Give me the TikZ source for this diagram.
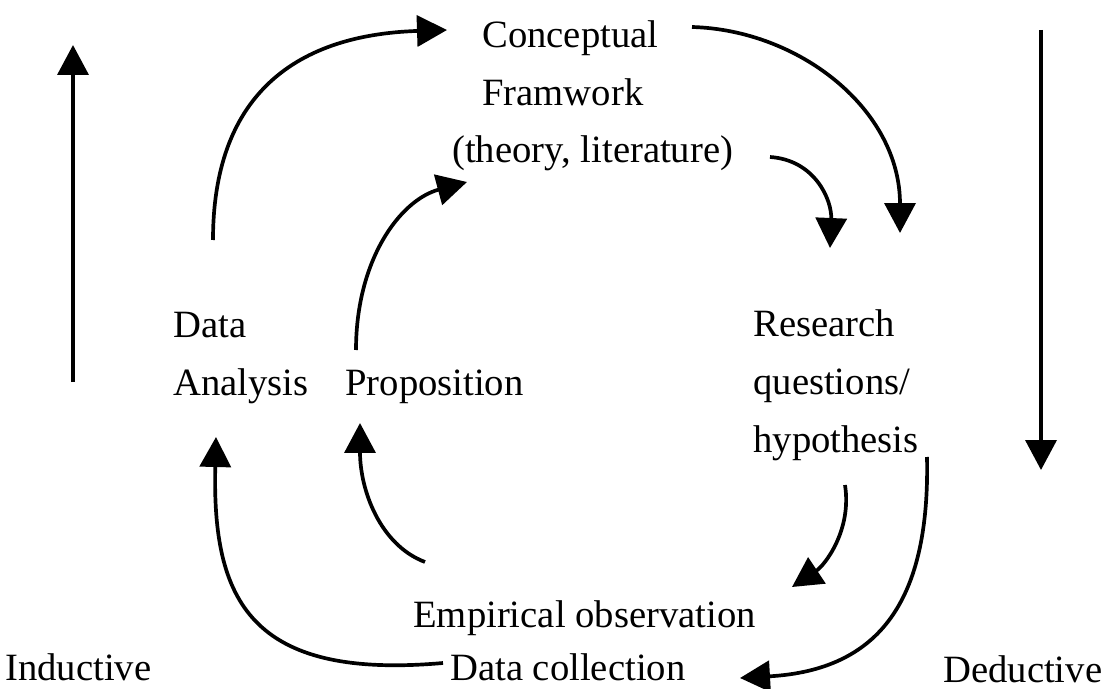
\documentclass[tikz,border=0pt]{standalone}
\usepackage{fontspec}
\setmainfont{Liberation Serif}
\usetikzlibrary{arrows.meta}
\begin{document}
\begin{tikzpicture}[x=0.02cm,y=-0.02cm,
  lbl/.style={font=\fontsize{22}{33}\selectfont, inner sep=0pt, anchor=base west, align=left},
  conn/.style={line width=2.1pt, -{Triangle[length=0.6cm,width=0.62cm]}}]
\useasboundingbox (0,0) rectangle (1105,689);
% text nodes (anchor base = baseline of last line)
\node[lbl] (concept) at (452,163) {\hspace*{0.6cm}Conceptual\\\hspace*{0.6cm}Framwork\\(theory, literature)};
\node[lbl] (analysis) at (173,395) {Data\\Analysis};
\node[lbl] (prop) at (345,395) {Proposition};
\node[lbl] (research) at (753,452) {Research\\questions/\\hypothesis};
\node[lbl] (empirical) at (413,627) {Empirical observation};
\node[lbl] (collection) at (450,680) {Data collection};
\node[lbl] (inductive) at (5,680) {Inductive};
\node[lbl] (deductive) at (943,682) {Deductive};
% connector end points
\coordinate (a1s) at (213,240);  \coordinate (a1e) at (447,30);
\coordinate (a2s) at (692,27);   \coordinate (a2e) at (900,233);
\coordinate (a3s) at (770,157);  \coordinate (a3e) at (830,248);
\coordinate (a4s) at (356,350);  \coordinate (a4e) at (467,182);
\coordinate (a5s) at (443,663);  \coordinate (a5e) at (216,437);
\coordinate (a6s) at (425,562);  \coordinate (a6e) at (360,423);
\coordinate (a7s) at (845,485);  \coordinate (a7e) at (792,587);
\coordinate (a8s) at (927,457);  \coordinate (a8e) at (740,678);
\coordinate (inds) at (73,382);  \coordinate (inde) at (73,45);
\coordinate (deds) at (1041,30); \coordinate (dede) at (1041,470);
% connectors
\draw[conn] (a1s) .. controls (213,100) and (290,35) .. (a1e);
\draw[conn] (a2s) .. controls (800,30) and (900,110) .. (a2e);
\draw[conn] (a3s) .. controls (815,160) and (832,200) .. (a3e);
\draw[conn] (a4s) .. controls (356,260) and (400,200) .. (a4e);
\draw[conn] (a5s) .. controls (250,680) and (212,600) .. (a5e);
\draw[conn] (a6s) .. controls (380,545) and (360,490) .. (a6e);
\draw[conn] (a7s) .. controls (852,530) and (825,565) .. (a7e);
\draw[conn] (a8s) .. controls (930,600) and (880,670) .. (a8e);
\draw[conn] (inds) -- (inde);
\draw[conn] (deds) -- (dede);
\end{tikzpicture}
\end{document}
